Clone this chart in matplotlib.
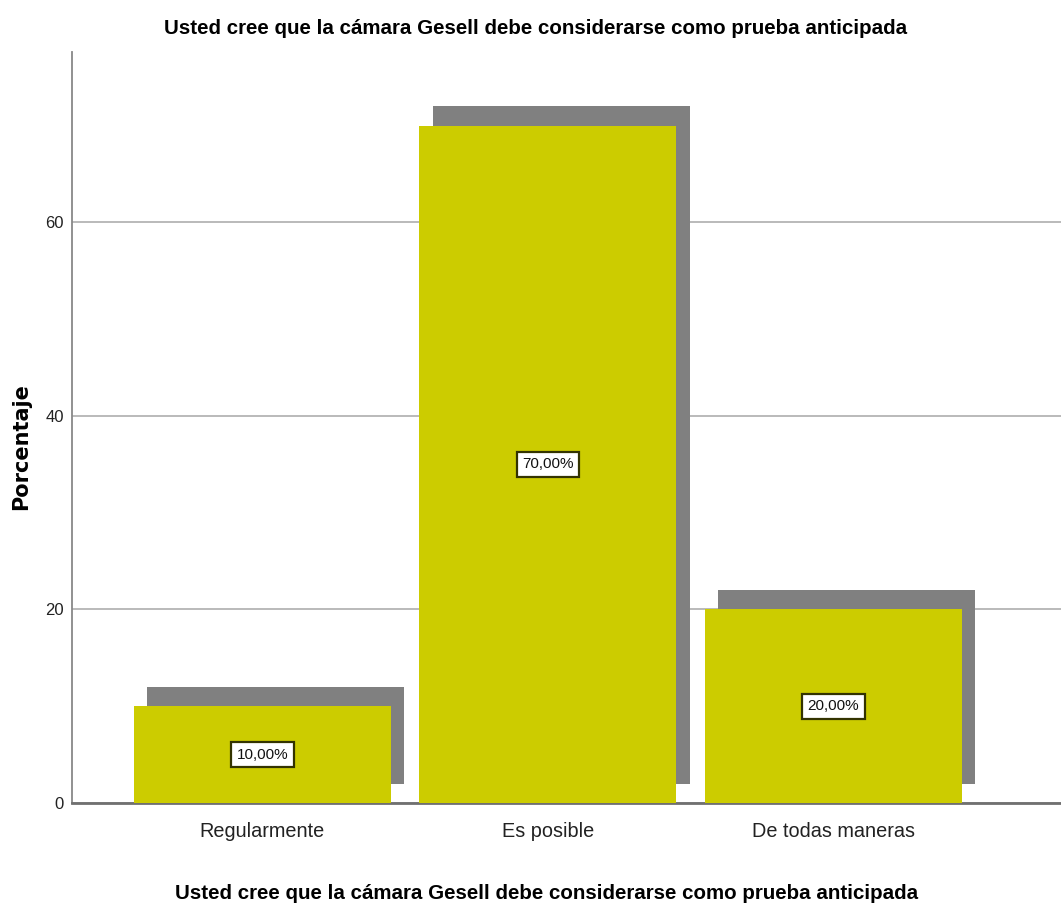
import matplotlib
matplotlib.use("Agg")
import matplotlib.pyplot as plt
from matplotlib import font_manager

categories = ["Regularmente", "Es posible", "De todas maneras"]
values = [10.0, 70.0, 20.0]
value_labels = ["10,00%", "70,00%", "20,00%"]
yticks = [0, 20, 40, 60]
title = "Usted cree que la cámara Gesell debe considerarse como prueba anticipada"
ylabel = "Porcentaje"

names = {f.name for f in font_manager.fontManager.ttflist}
narrow = "Liberation Sans Narrow" if "Liberation Sans Narrow" in names else "Liberation Sans"
fam = [narrow, "DejaVu Sans"]

fig = plt.figure(figsize=(10.61, 9.10), dpi=100)
ax = fig.add_axes([72/1061, 107/910, 1 - 72/1061, (803-52)/910])

bar_color = "#cccc00"
shadow_color = "#808080"
width = 0.9
dx, dy = 0.046, 2.0
x = list(range(len(categories)))

for xi, v in zip(x, values):
    ax.bar(xi + dx, v, width=width, bottom=dy, color=shadow_color, zorder=2, linewidth=0)
    ax.bar(xi, v, width=width, color=bar_color, zorder=3, linewidth=0)

for xi, v, lab in zip(x, values, value_labels):
    ax.text(xi, v / 2, lab, ha="center", va="center", fontsize=11, family=fam, zorder=5,
            color="#111111",
            bbox=dict(boxstyle="square,pad=0.35", facecolor="white", edgecolor="#333300", linewidth=1.6))

ax.set_xlim(-0.667, 2.797)
ax.set_ylim(0, 77.6)
ax.set_yticks(yticks)
ax.set_yticklabels([str(t) for t in yticks], family=fam, fontsize=12)
ax.set_xticks(x)
ax.set_xticklabels(categories, family=fam, fontsize=14.3)
ax.tick_params(axis="both", length=0, colors="#222222")
ax.tick_params(axis="y", pad=6)
ax.tick_params(axis="x", pad=14)
ax.yaxis.grid(True, color="#b4b4b4", linewidth=1.3, zorder=1)
ax.set_axisbelow(True)
for s in ["top", "right"]:
    ax.spines[s].set_visible(False)
ax.spines["left"].set_color("#888888")
ax.spines["left"].set_linewidth(1.3)
ax.spines["bottom"].set_color("#707070")
ax.spines["bottom"].set_linewidth(2)

fig.text(0.505, 0.969, title, ha="center", va="center", fontsize=14.8, fontweight="bold", family=fam)
fig.text(0.515, 0.018, title, ha="center", va="center", fontsize=14.8, fontweight="bold", family=fam)
fig.text(0.02, 0.509, ylabel, ha="center", va="center", rotation=90, fontsize=15, fontweight="bold",
         family=["DejaVu Sans"])

fig.savefig("out.png", dpi=100)
